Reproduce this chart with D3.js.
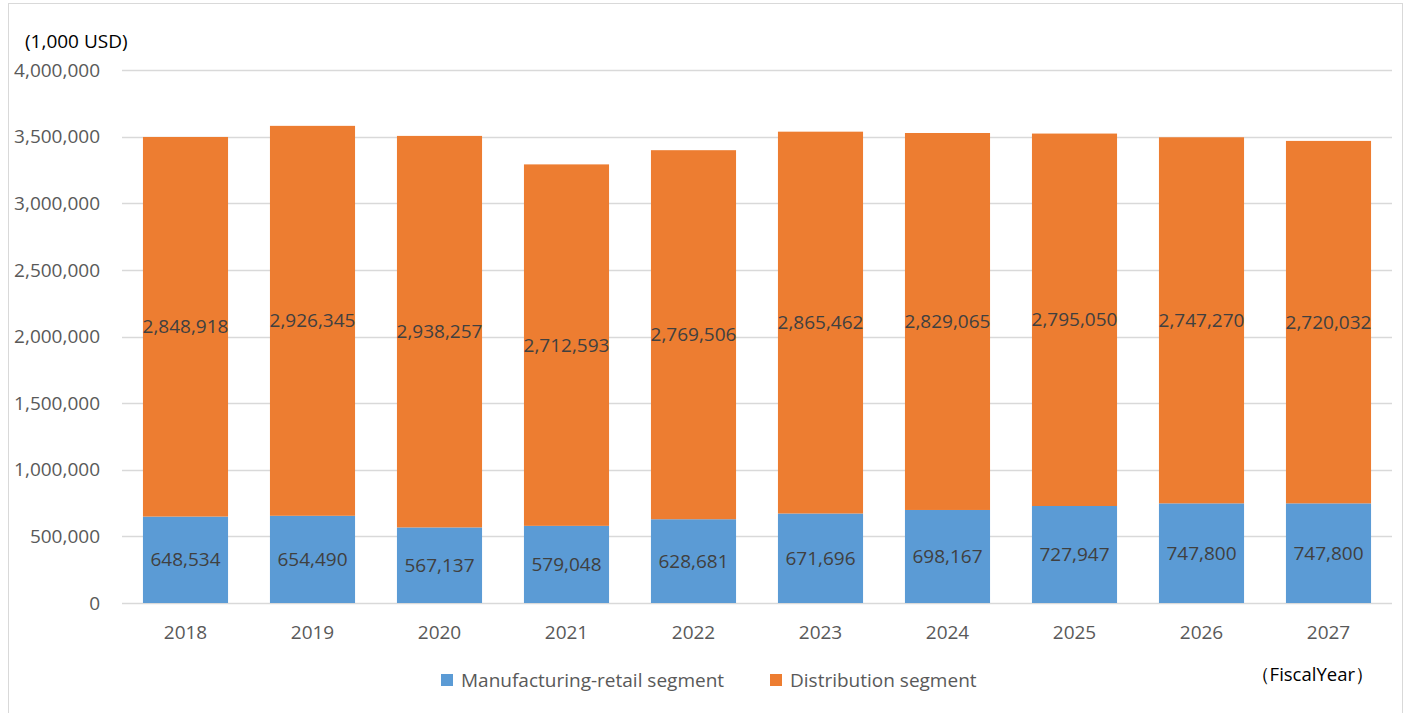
<!DOCTYPE html>
<html>
<head>
<meta charset="utf-8">
<style>
    body { margin: 0; background: #fff; }
    svg text { font-family: "Open Sans", "Noto Sans", sans-serif; }
</style>
</head>
<body>
<div id="chart"></div>
<script src="https://cdn.jsdelivr.net/npm/d3@7"></script>
<script>
    var w = 1405;
    var h = 713;

    var years = ["2018", "2019", "2020", "2021", "2022", "2023", "2024", "2025", "2026", "2027"];
    var manufacturing = [648534, 654490, 567137, 579048, 628681, 671696, 698167, 727947, 747800, 747800];
    var distribution = [2848918, 2926345, 2938257, 2712593, 2769506, 2865462, 2829065, 2795050, 2747270, 2720032];
    var yTicks = [0, 500000, 1000000, 1500000, 2000000, 2500000, 3000000, 3500000, 4000000];
    var seriesNames = ["Manufacturing-retail segment", "Distribution segment"];
    var colors = ["#5b9bd5", "#ed7d31"];

    var rows = years.map(function (y, i) {
        return {year: y, m: manufacturing[i], d: distribution[i]};
    });

    var xScale = d3.scaleBand()
        .domain(years)
        .range([122, 1392])
        .paddingInner(0.33)
        .paddingOuter(0.165);

    var yScale = d3.scaleLinear()
        .domain([0, 4000000])
        .range([603, 70]);

    var fmt = d3.format(",");
    var fs = 19;

    var svg = d3.select("#chart")
        .append("svg")
        .attr("width", w)
        .attr("height", h);

    // chart border
    svg.append("rect")
        .attr("x", 8.5).attr("y", 3.5)
        .attr("width", 1394).attr("height", 720)
        .attr("fill", "none")
        .attr("stroke", "#d9d9d9");

    // gridlines
    svg.selectAll(".grid")
        .data(yTicks)
        .enter()
        .append("line")
        .attr("x1", 122).attr("x2", 1392)
        .attr("y1", function (d) { return Math.round(yScale(d)) + 0.5; })
        .attr("y2", function (d) { return Math.round(yScale(d)) + 0.5; })
        .attr("stroke", "#d9d9d9")
        .attr("stroke-width", 1.5);

    // y labels
    svg.selectAll(".ylab")
        .data(yTicks)
        .enter()
        .append("text")
        .attr("x", 100)
        .attr("y", function (d) { return yScale(d); })
        .attr("dy", "0.35em")
        .attr("text-anchor", "end")
        .attr("font-size", fs)
        .attr("fill", "#595959")
        .text(fmt);

    svg.append("text")
        .attr("x", 25).attr("y", 41)
        .attr("dy", "0.35em")
        .attr("font-size", fs)
        .attr("fill", "#000")
        .text("(1,000 USD)");

    // bottom segment
    svg.selectAll(".bm")
        .data(rows)
        .enter()
        .append("rect")
        .attr("x", function (d) { return xScale(d.year); })
        .attr("width", xScale.bandwidth())
        .attr("y", function (d) { return yScale(d.m); })
        .attr("height", function (d) { return yScale(0) - yScale(d.m); })
        .attr("fill", colors[0]);

    // top segment
    svg.selectAll(".bd")
        .data(rows)
        .enter()
        .append("rect")
        .attr("x", function (d) { return xScale(d.year); })
        .attr("width", xScale.bandwidth())
        .attr("y", function (d) { return yScale(d.m + d.d); })
        .attr("height", function (d) { return yScale(d.m) - yScale(d.m + d.d); })
        .attr("fill", colors[1]);

    // value labels
    svg.selectAll(".lm")
        .data(rows)
        .enter()
        .append("text")
        .attr("x", function (d) { return xScale(d.year) + xScale.bandwidth() / 2; })
        .attr("y", function (d) { return yScale(d.m / 2); })
        .attr("dy", "0.35em")
        .attr("text-anchor", "middle")
        .attr("font-size", fs)
        .attr("fill", "#404040")
        .text(function (d) { return fmt(d.m); });

    svg.selectAll(".ld")
        .data(rows)
        .enter()
        .append("text")
        .attr("x", function (d) { return xScale(d.year) + xScale.bandwidth() / 2; })
        .attr("y", function (d) { return yScale(d.m + d.d / 2); })
        .attr("dy", "0.35em")
        .attr("text-anchor", "middle")
        .attr("font-size", fs)
        .attr("fill", "#404040")
        .text(function (d) { return fmt(d.d); });

    // x labels
    svg.selectAll(".xlab")
        .data(years)
        .enter()
        .append("text")
        .attr("x", function (d) { return xScale(d) + xScale.bandwidth() / 2; })
        .attr("y", 632)
        .attr("dy", "0.35em")
        .attr("text-anchor", "middle")
        .attr("font-size", fs)
        .attr("fill", "#595959")
        .text(function (d) { return d; });

    svg.append("text")
        .attr("x", 1374).attr("y", 675)
        .attr("dy", "0.35em")
        .attr("text-anchor", "end")
        .attr("font-size", 18.5)
        .attr("fill", "#000")
        .text("\uFF08FiscalYear\uFF09");

    // legend
    var legendX = [441, 770];
    var legend = svg.selectAll(".leg")
        .data(seriesNames)
        .enter()
        .append("g")
        .attr("transform", function (d, i) { return "translate(" + legendX[i] + ",680)"; });
    legend.append("rect")
        .attr("x", 0).attr("y", -6)
        .attr("width", 12).attr("height", 12)
        .attr("fill", function (d, i) { return colors[i]; });
    legend.append("text")
        .attr("x", 20).attr("y", 0)
        .attr("dy", "0.35em")
        .attr("font-size", fs)
        .attr("fill", "#595959")
        .text(function (d) { return d; });
</script>
</body>
</html>
